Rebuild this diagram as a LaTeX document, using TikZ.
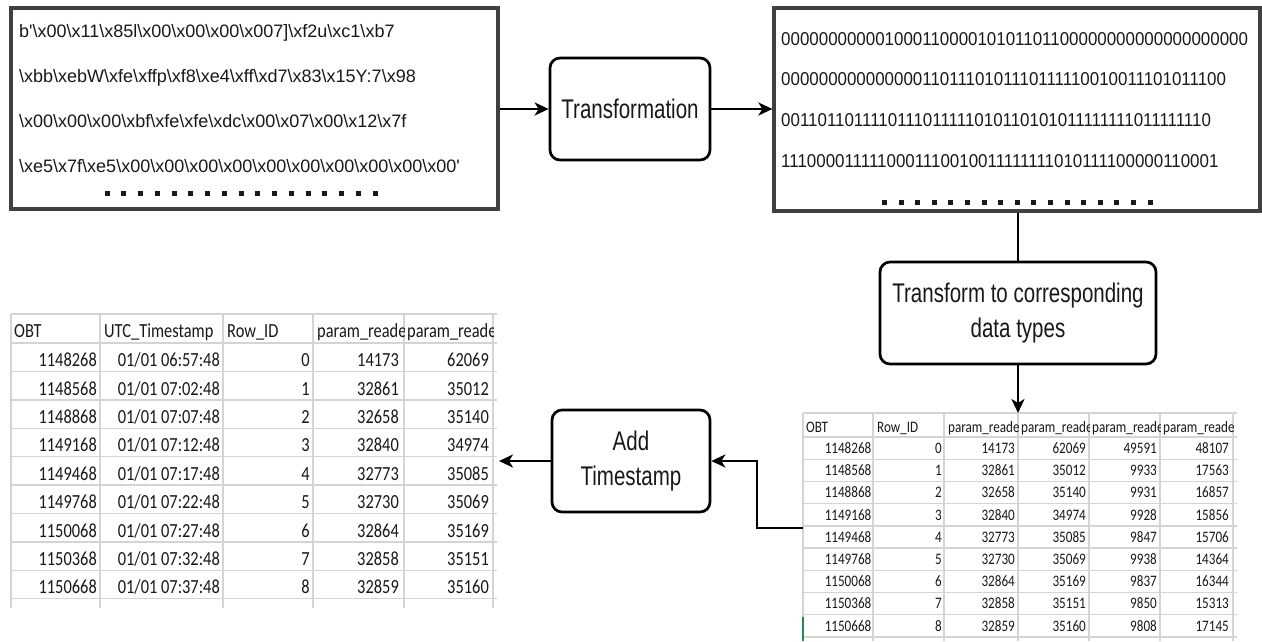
\documentclass[tikz,border=0pt]{standalone}
\usepackage{fontspec}
\usepackage{graphicx}
\setmainfont{Liberation Sans}
\newfontfamily\tabfont{Carlito}
\usetikzlibrary{arrows.meta}
\newcommand\bsl{\textbackslash}
\newcommand\sqz[2]{\scalebox{#1}[1]{#2}}
\definecolor{gridc}{RGB}{212,212,212}
\definecolor{txt}{RGB}{25,25,25}
\definecolor{xlgreen}{RGB}{33,140,80}
\begin{document}
\begin{tikzpicture}[x=1pt,y=-1pt,
  bigbox/.style={draw=black!75, line width=3.2pt, inner sep=0pt},
  rbox/.style={draw=black, line width=2.7pt, rounded corners=10pt, inner sep=0pt, align=center, text=txt, font=\fontsize{27}{34.5}\selectfont},
  conn/.style={line width=2.7pt, -{Stealth[length=14pt,width=13pt,inset=4pt]}},
  plainline/.style={line width=2.7pt},
  hexline/.style={anchor=base west, inner sep=0pt, text=txt, font=\fontsize{18}{20}\selectfont},
  binline/.style={anchor=base west, inner sep=0pt, text=txt, font=\fontsize{18.6}{20}\selectfont},
  dotsq/.style={fill=txt},
  gridline/.style={draw=gridc, line width=1.4pt},
  ltab/.style={inner sep=0pt, text=txt, font=\tabfont\fontsize{20}{22}\selectfont},
  rtab/.style={inner sep=0pt, text=txt, font=\tabfont\fontsize{16}{18}\selectfont},
]
\useasboundingbox[fill=white] (0,0) rectangle (1262,641);

% ---------- top boxes ----------
\node[bigbox, minimum width=487pt, minimum height=201pt] (raw) at (254.5,108.5) {};
\node[hexline] (h1) at (19,37.5) {b\textquotesingle\bsl x00\bsl x11\bsl x85l\bsl x00\bsl x00\bsl x00\bsl x007]\bsl xf2u\bsl xc1\bsl xb7};
\node[hexline] (h2) at (19,82.5) {\bsl xbb\bsl xebW\bsl xfe\bsl xffp\bsl xf8\bsl xe4\bsl xff\bsl xd7\bsl x83\bsl x15Y:7\bsl x98};
\node[hexline] (h3) at (19,127.5) {\bsl x00\bsl x00\bsl x00\bsl xbf\bsl xfe\bsl xfe\bsl xdc\bsl x00\bsl x07\bsl x00\bsl x12\bsl x7f};
\node[hexline] (h4) at (19,172.5) {\bsl xe5\bsl x7f\bsl xe5\bsl x00\bsl x00\bsl x00\bsl x00\bsl x00\bsl x00\bsl x00\bsl x00\bsl x00\bsl x00\textquotesingle};
\foreach \k in {0,...,16} \fill[dotsq] ({107.2+16.75*\k-2.5},191) rectangle ++(5,5);

\node[bigbox, minimum width=486pt, minimum height=203pt] (bin) at (1017,109.5) {};
\node[binline] (b1) at (781,45) {\sqz{0.91}{00000000000100011000010101101100000000000000000000}};
\node[binline] (b2) at (781,85.7) {\sqz{0.91}{0000000000000001101110101110111110010011101011100}};
\node[binline] (b3) at (781,126.3) {\sqz{0.91}{0011011011110111011111010110101011111111011111110}};
\node[binline] (b4) at (781,167) {\sqz{0.91}{1110000111110001110010011111111010111100000110001}};
\foreach \k in {0,...,16} \fill[dotsq] ({884.5+16.6*\k-2.5},199.5) rectangle ++(5,5);

% ---------- process boxes ----------
\node[rbox, minimum width=160pt, minimum height=102pt] (trans) at (630,109) {\sqz{0.76}{Transformation}};
\node[rbox, minimum width=276pt, minimum height=102pt] (ttype) at (1018,313) {\sqz{0.76}{\begin{tabular}{@{}c@{}}Transform to corresponding\\data types\end{tabular}}};
\node[rbox, minimum width=158pt, minimum height=102pt] (add) at (631,461) {\sqz{0.76}{\begin{tabular}{@{}c@{}}Add\\Timestamp\end{tabular}}};

% ---------- right table ----------
\coordinate (tabRtop) at (803,413);
\coordinate (tabRin) at (803,528);
\draw[gridline] (803,413) -- (1237,413);
\draw[gridline] (803,437) -- (1237,437);
\foreach \k in {1,...,9} \draw[gridline] (803,{437+22.2*\k}) -- (1237,{437+22.2*\k});
\foreach \x in {803,873,944,1018,1089,1160,1233} \draw[gridline] (\x,413) -- (\x,641);
\draw[xlgreen, line width=1.4pt] (803,617) -- (803,641);
\node[rtab, anchor=base west] (RH1) at (806,432) {\sqz{0.82}{OBT}};
\node[rtab, anchor=base west] (RH2) at (877,432) {\sqz{0.82}{Row\_ID}};
\begin{scope}\clip (944,413) rectangle (1018,437);
\node[rtab, anchor=base west] (RH3) at (948,432) {\sqz{0.82}{param\_reade}};\end{scope}
\begin{scope}\clip (1018,413) rectangle (1089,437);
\node[rtab, anchor=base west] (RH4) at (1021,432) {\sqz{0.82}{param\_reade}};\end{scope}
\begin{scope}\clip (1089,413) rectangle (1160,437);
\node[rtab, anchor=base west] (RH5) at (1092,432) {\sqz{0.82}{param\_reade}};\end{scope}
\begin{scope}\clip (1160,413) rectangle (1233,437);
\node[rtab, anchor=base west] (RH6) at (1163,432) {\sqz{0.82}{param\_reade}};\end{scope}
\foreach \va/\vb/\vc/\vd/\ve/\vf [count=\k from 0] in {
 1148268/0/14173/62069/49591/48107,
 1148568/1/32861/35012/9933/17563,
 1148868/2/32658/35140/9931/16857,
 1149168/3/32840/34974/9928/15856,
 1149468/4/32773/35085/9847/15706,
 1149768/5/32730/35069/9938/14364,
 1150068/6/32864/35169/9837/16344,
 1150368/7/32858/35151/9850/15313,
 1150668/8/32859/35160/9808/17145}{
  \pgfmathsetmacro\yb{453.5+22.2*\k}
  \node[rtab, anchor=base east] (R\k-a) at (871.5,\yb) {\sqz{0.82}{\va}};
  \node[rtab, anchor=base east] (R\k-b) at (942,\yb) {\sqz{0.82}{\vb}};
  \node[rtab, anchor=base east] (R\k-c) at (1015,\yb) {\sqz{0.82}{\vc}};
  \node[rtab, anchor=base east] (R\k-d) at (1086,\yb) {\sqz{0.82}{\vd}};
  \node[rtab, anchor=base east] (R\k-e) at (1157,\yb) {\sqz{0.82}{\ve}};
  \node[rtab, anchor=base east] (R\k-f) at (1229,\yb) {\sqz{0.82}{\vf}};
}

% ---------- left table ----------
\coordinate (tabLin) at (499,461);
\draw[gridline] (11,314) -- (497,314);
\draw[gridline] (11,343) -- (497,343);
\foreach \k in {1,...,9} \draw[gridline] (11,{343+28.4*\k}) -- (497,{343+28.4*\k});
\foreach \x in {11,100,223,313,404,493} \draw[gridline] (\x,314) -- (\x,608);
\node[ltab, anchor=base west] (LH1) at (14,337.5) {\sqz{0.82}{OBT}};
\node[ltab, anchor=base west] (LH2) at (104,337.5) {\sqz{0.82}{UTC\_Timestamp}};
\node[ltab, anchor=base west] (LH3) at (227,337.5) {\sqz{0.82}{Row\_ID}};
\begin{scope}\clip (313,314) rectangle (404,343);
\node[ltab, anchor=base west] (LH4) at (317,337.5) {\sqz{0.82}{param\_reade}};\end{scope}
\begin{scope}\clip (404,314) rectangle (493,343);
\node[ltab, anchor=base west] (LH5) at (407,337.5) {\sqz{0.82}{param\_reade}};\end{scope}
\foreach \va/\vb/\vc/\vd/\ve [count=\k from 0] in {
 1148268/06:57:48/0/14173/62069,
 1148568/07:02:48/1/32861/35012,
 1148868/07:07:48/2/32658/35140,
 1149168/07:12:48/3/32840/34974,
 1149468/07:17:48/4/32773/35085,
 1149768/07:22:48/5/32730/35069,
 1150068/07:27:48/6/32864/35169,
 1150368/07:32:48/7/32858/35151,
 1150668/07:37:48/8/32859/35160}{
  \pgfmathsetmacro\yb{366.7+28.4*\k}
  \node[ltab, anchor=base east] (L\k-a) at (97,\yb) {\sqz{0.82}{\va}};
  \node[ltab, anchor=base east] (L\k-b) at (220,\yb) {\sqz{0.82}{01/01 \vb}};
  \node[ltab, anchor=base east] (L\k-c) at (310,\yb) {\sqz{0.82}{\vc}};
  \node[ltab, anchor=base east] (L\k-d) at (399,\yb) {\sqz{0.82}{\vd}};
  \node[ltab, anchor=base east] (L\k-e) at (489,\yb) {\sqz{0.82}{\ve}};
}

% ---------- connectors ----------
\coordinate (bend) at (757,528);
\draw[conn] (raw.east |- trans.west) -- (trans.west);
\draw[conn] (trans.east) -- (bin.west |- trans.east);
\draw[plainline] (ttype.north |- bin.south) -- (ttype.north);
\draw[conn] (ttype.south) -- (ttype.south |- tabRtop);
\draw[conn] (tabRin) -- (bend) |- (add.east);
\draw[conn] (add.west) -- (tabLin);
\end{tikzpicture}
\end{document}
